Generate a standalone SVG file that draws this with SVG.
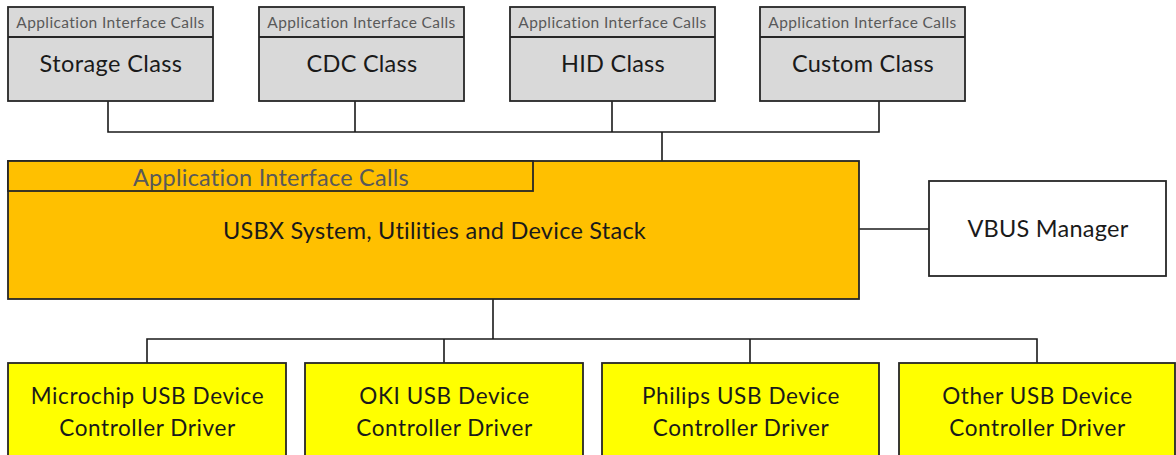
<svg xmlns="http://www.w3.org/2000/svg" width="1176" height="455" viewBox="0 0 1176 455">
<style>
.box{stroke:#262626;stroke-width:1.8}
.cls{fill:#d9d9d9}
.stack{fill:#ffc000}
.drv{fill:#ffff00}
.vbus{fill:#ffffff}
.conn{fill:none;stroke:#1a1a1a;stroke-width:1.6}
text{font-family:Lato,"Open Sans","Liberation Sans",sans-serif;text-anchor:middle;fill:#1a1a1a}
.hdr{font-size:15.5px;fill:#595959;letter-spacing:0.4px}
.big{font-size:23.5px;letter-spacing:0.25px}
.drvt{font-size:22.5px;letter-spacing:0.6px}
</style>
<rect width="1176" height="455" fill="#ffffff"/>
<g id="connectors">
<path class="conn" d="M108 101V132H879V101M355 101V132M612 101V132M662 132V161"/>
<path class="conn" d="M859 229H929"/>
<path class="conn" d="M493 299V339M147 363V339H1037V363M444 339V363M750 339V363"/>
</g>
<g id="storage">
<rect class="box cls" x="8" y="7" width="205" height="94"/>
<line class="box" x1="8" y1="37" x2="213" y2="37"/>
<text class="hdr" x="110.5" y="27.5">Application Interface Calls</text>
<text class="big" x="111" y="72" style="letter-spacing:0.4px">Storage Class</text>
</g>
<g id="cdc">
<rect class="box cls" x="259" y="7" width="205" height="94"/>
<line class="box" x1="259" y1="37" x2="464" y2="37"/>
<text class="hdr" x="361.5" y="27.5">Application Interface Calls</text>
<text class="big" x="362" y="72">CDC Class</text>
</g>
<g id="hid">
<rect class="box cls" x="510" y="7" width="205" height="94"/>
<line class="box" x1="510" y1="37" x2="715" y2="37"/>
<text class="hdr" x="612.5" y="27.5">Application Interface Calls</text>
<text class="big" x="613" y="72">HID Class</text>
</g>
<g id="custom">
<rect class="box cls" x="760" y="7" width="205" height="94"/>
<line class="box" x1="760" y1="37" x2="965" y2="37"/>
<text class="hdr" x="862.5" y="27.5">Application Interface Calls</text>
<text class="big" x="863" y="72">Custom Class</text>
</g>
<g id="usbx">
<rect class="box stack" x="8" y="161" width="851" height="138"/>
<rect class="box stack" x="8" y="161" width="525" height="30"/>
<text class="big" x="271" y="185.5" style="fill:#595959">Application Interface Calls</text>
<text class="big" x="434.5" y="238.5">USBX System, Utilities and Device Stack</text>
</g>
<g id="vbus">
<rect class="box vbus" x="929" y="181" width="237" height="95"/>
<text class="big" x="1048" y="237">VBUS Manager</text>
</g>
<g id="microchip">
<rect class="box drv" x="8" y="363" width="278" height="100"/>
<text class="drvt" x="147.5" y="403.5">Microchip USB Device</text>
<text class="drvt" x="147.5" y="435.5">Controller Driver</text>
</g>
<g id="oki">
<rect class="box drv" x="305" y="363" width="278" height="100"/>
<text class="drvt" x="444.5" y="403.5">OKI USB Device</text>
<text class="drvt" x="444.5" y="435.5">Controller Driver</text>
</g>
<g id="philips">
<rect class="box drv" x="602" y="363" width="277" height="100"/>
<text class="drvt" x="741" y="403.5">Philips USB Device</text>
<text class="drvt" x="741" y="435.5">Controller Driver</text>
</g>
<g id="other">
<rect class="box drv" x="899" y="363" width="276" height="100"/>
<text class="drvt" x="1037.5" y="403.5">Other USB Device</text>
<text class="drvt" x="1037.5" y="435.5">Controller Driver</text>
</g>
</svg>
